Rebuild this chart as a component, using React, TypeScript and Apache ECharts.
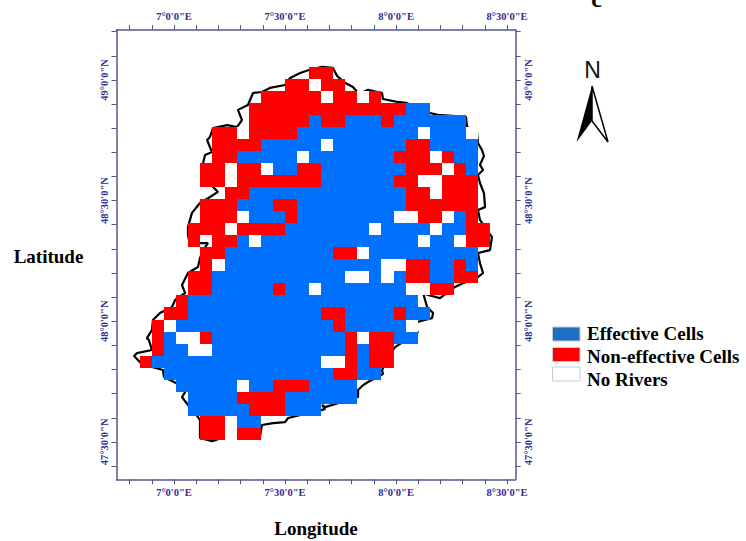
import React, { useEffect, useRef } from "react";
import * as echarts from "echarts";

// Study-area cells, north to south, west to east. R non-effective, B effective, W no rivers, . outside
const cellRows = [
  "..............RR.............",
  "............RRWRR............",
  "..........RRRRRWRRWR.........",
  ".........RRRRRRRRRRRRRBB.....",
  ".........RRRRRBRRBBBRBBBBBB..",
  "......RRWRRRRBBBBBBBBBBWBBBW.",
  "......RRRRBBBBBWBBBBBBRRBBBB.",
  "......RRBBBBBWBBBBBBBRRRWRBB.",
  ".....RRWRRWBBRRBBBBBBBRRRWRB.",
  ".....RRWRRRRRRRBBBBBBRRWWRRR.",
  ".......RRBBBBBBBBBBBBBRRWRRR.",
  ".....RRRBBBRRBBBBBBBBBRRRRRR.",
  ".....RRRWBBBRBBBBBBBBWWRRWBR.",
  "....RRRWRRRRBBBBBBBWBBBBWBBRR",
  "....R.RRBWBBBBBBBBBBBBBWBBWRR",
  ".....RRBBBBBBBBBRRWBBBBBBBBB.",
  ".....RWBBBBBBBBBBBBBWWRRBBRB.",
  "....RRBBBBBBBBBBBWWBWBRRBBRR.",
  "....RRBBBBBRBBWBBBBBBBWWRR...",
  "...RBBBBBBBBBBBBBBBBBBB......",
  "..RRBBBBBBBBBBBRRBBBBRBB.....",
  ".RWBBBBBBBBBBBBBRBBBBBW......",
  ".RBWWRBBBBBBBBBBBRWRRBB......",
  ".RBBWWBBBBBBBBBBBRBRR........",
  "RBBBBBBBBBBBBBBWWRBRR........",
  "..BBBBBBBBBBBBBBRRBB.........",
  "...BBBBBWBBRRRBBBB...........",
  "....BBBBRRRRBBBBBB...........",
  "....BBBBBRRRBBB..............",
  ".....RRWBB...................",
  ".....RRWRR...................",
];

const boundaryLon = [
  7.568, 7.608, 7.667, 7.716, 7.734, 7.77, 7.806, 7.833, 7.874, 7.937, 7.941, 8.005, 8.045, 8.153, 8.189, 8.315,
  8.32, 8.365, 8.369, 8.387, 8.396, 8.378, 8.392, 8.369, 8.378, 8.396, 8.401, 8.369, 8.378, 8.432, 8.423, 8.369,
  8.378, 8.392, 8.369, 8.302, 8.266, 8.198, 8.144, 8.122, 8.14, 8.167, 8.162, 8.095, 8.077, 8.099, 7.996, 7.986,
  7.937, 7.941, 7.874, 7.851, 7.829, 7.829, 7.68, 7.667, 7.68, 7.514, 7.5, 7.446, 7.396, 7.387, 7.284, 7.23,
  7.171, 7.117, 7.117, 7.108, 7.063, 7.036, 7.05, 7.009, 6.955, 6.95, 6.905, 6.86, 6.82, 6.833, 6.901, 6.887,
  6.878, 6.901, 6.905, 6.937, 6.991, 7.005, 7.05, 7.036, 7.063, 7.108, 7.117, 7.131, 7.153, 7.117, 7.072, 7.063,
  7.063, 7.081, 7.117, 7.162, 7.198, 7.176, 7.131, 7.14, 7.171, 7.149, 7.162, 7.176, 7.239, 7.284, 7.306, 7.288,
  7.333, 7.356, 7.396, 7.432, 7.5, 7.523, 7.568,
];
const boundaryLat = [
  49.029, 49.041, 49.054, 49.05, 49.017, 48.988, 48.971, 48.942, 48.959, 48.946, 48.921, 48.909, 48.905, 48.863, 48.855, 48.847,
  48.805, 48.78, 48.739, 48.71, 48.685, 48.648, 48.627, 48.606, 48.573, 48.531, 48.473, 48.461, 48.42, 48.349, 48.295, 48.283,
  48.241, 48.2, 48.183, 48.158, 48.142, 48.096, 48.109, 48.117, 48.059, 48.034, 48.013, 47.997, 47.976, 47.955, 47.893, 47.88,
  47.798, 47.781, 47.748, 47.735, 47.715, 47.686, 47.644, 47.653, 47.636, 47.599, 47.582, 47.578, 47.57, 47.52, 47.52, 47.52,
  47.503, 47.516, 47.59, 47.603, 47.653, 47.686, 47.706, 47.744, 47.769, 47.798, 47.81, 47.818, 47.856, 47.868, 47.881, 47.922,
  47.93, 47.964, 48.005, 48.034, 48.059, 48.088, 48.117, 48.15, 48.2, 48.225, 48.262, 48.295, 48.324, 48.324, 48.316, 48.357,
  48.391, 48.449, 48.49, 48.515, 48.536, 48.556, 48.656, 48.689, 48.701, 48.751, 48.764, 48.801, 48.813, 48.805, 48.834, 48.876,
  48.896, 48.946, 48.95, 48.967, 48.979, 49.008, 49.029,
];

const lonTicks = [6.8, 6.9, 7, 7.1, 7.2, 7.3, 7.4, 7.5, 7.6, 7.7, 7.8, 7.9, 8, 8.1, 8.2, 8.3, 8.4, 8.5];
const latTicks = [47.4, 47.5, 47.6, 47.7, 47.8, 47.9, 48, 48.1, 48.2, 48.3, 48.4, 48.5, 48.6, 48.7, 48.8, 48.9, 49, 49.1, 49.2];
const lonLabelValues = [7, 7.5, 8, 8.5];
const latLabelValues = [47.5, 48, 48.5, 49];
const legendNames = ["Effective Cells", "Non-effective Cells", "No Rivers"];

const LON_MIN = 6.741, LON_MAX = 8.539, LAT_MIN = 47.345, LAT_MAX = 49.207;
const CELL_LON0 = 6.847, CELL_DLON = 0.05437, CELL_LAT0 = 49.055, CELL_DLAT = 0.0499;
const SERIF = '"Liberation Serif", "Times New Roman", serif';
const AXIS_COLOR = "#55558f";
const LABEL_COLOR = "#2d2d96";
const cellColor: Record<string, string> = { B: "#0070ff", R: "#ff0000", W: "#ffffff" };

const dms = (v: number, hemi: string) => {
  const d = Math.floor(v + 1e-6);
  const m = Math.round((v - d) * 60);
  return `${d}°${m}'0"${hemi}`;
};

const cellData: [number, number, string][] = [];
cellRows.forEach((row, r) => {
  row.split("").forEach((c, col) => {
    if (c !== ".") cellData.push([col, r, c]);
  });
});

function axis(position: string, isLon: boolean) {
  const hemi = isLon ? "E" : "N";
  return {
    type: "value",
    position,
    min: isLon ? LON_MIN : LAT_MIN,
    max: isLon ? LON_MAX : LAT_MAX,
    splitLine: { show: false },
    axisLine: { show: true, onZero: false, lineStyle: { color: AXIS_COLOR, width: 1.5 } },
    axisTick: {
      show: true,
      length: 5,
      customValues: isLon ? lonTicks : latTicks,
      lineStyle: { color: AXIS_COLOR, width: 1 },
    },
    axisLabel: {
      show: true,
      customValues: isLon ? lonLabelValues : latLabelValues,
      rotate: isLon ? 0 : 90,
      margin: isLon ? 8 : 7,
      fontFamily: SERIF,
      fontWeight: "bold",
      fontSize: 10.5,
      color: LABEL_COLOR,
      formatter: (v: number) => dms(v, hemi),
    },
  };
}

export default function App() {
  const ref = useRef<HTMLDivElement>(null);
  useEffect(() => {
    const chart = echarts.init(ref.current!, undefined, { renderer: "svg" });
    const titleText = (text: string, x: number, y: number, fontSize = 19) => ({
      type: "text",
      x,
      y,
      style: {
        text,
        fontFamily: SERIF,
        fontWeight: "bold",
        fontSize,
        fill: "#000",
        align: "center",
        verticalAlign: "middle",
      },
    });
    const swatchFill = ["#1f6fc6", "#ff0000", "#ffffff"];
    const swatchY = [327, 347.5, 367];
    const legendY = [333, 356, 379];
    chart.setOption({
      animation: false,
      backgroundColor: "#ffffff",
      grid: { left: 116.5, top: 30, width: 399.2, height: 449.3, containLabel: false },
      xAxis: [axis("bottom", true), axis("top", true)],
      yAxis: [axis("left", false), axis("right", false)],
      series: [
        {
          type: "line",
          data: boundaryLon.map((lon, i) => [lon, boundaryLat[i]]),
          showSymbol: false,
          clip: false,
          lineStyle: { color: "#000", width: 2.2 },
          z: 2,
        },
        {
          type: "custom",
          data: cellData,
          z: 3,
          renderItem: (_p: any, api: any) => {
            const col = api.value(0) as number;
            const row = api.value(1) as number;
            const code = cellRows[row][col];
            const a = api.coord([CELL_LON0 + col * CELL_DLON, CELL_LAT0 - row * CELL_DLAT]);
            const b = api.coord([CELL_LON0 + (col + 1) * CELL_DLON, CELL_LAT0 - (row + 1) * CELL_DLAT]);
            const x = Math.round(a[0]), y = Math.round(a[1]);
            return {
              type: "rect",
              shape: { x, y, width: Math.round(b[0]) - x, height: Math.round(b[1]) - y },
              style: { fill: cellColor[code] },
            };
          },
        },
      ],
      graphic: [
        titleText("c", 596.5, -1, 24),
        titleText("Latitude", 48.5, 256),
        titleText("Longitude", 316, 528),
        {
          type: "text",
          x: 592.5,
          y: 70,
          style: {
            text: "N",
            fontFamily: '"Liberation Sans", Arial, sans-serif',
            fontSize: 23,
            fill: "#111",
            align: "center",
            verticalAlign: "middle",
          },
        },
        { type: "polygon", shape: { points: [[592, 86], [576.5, 142], [592, 121]] }, style: { fill: "#000" } },
        {
          type: "polygon",
          shape: { points: [[592, 86], [608, 142], [592, 121]] },
          style: { fill: "#fff", stroke: "#000", lineWidth: 1.5 },
        },
        ...legendNames.flatMap((name, i) => [
          {
            type: "rect",
            shape: { x: 552.5, y: swatchY[i], width: 27.5, height: 14 },
            style: { fill: swatchFill[i], stroke: "#c4cbd4", lineWidth: 1 },
          },
          {
            type: "text",
            x: 587,
            y: legendY[i],
            style: {
              text: name,
              fontFamily: SERIF,
              fontWeight: "bold",
              fontSize: 19,
              fill: "#000",
              align: "left",
              verticalAlign: "middle",
            },
          },
        ]),
      ],
    });
    return () => chart.dispose();
  }, []);
  return <div ref={ref} style={{ position: "absolute", left: 0, top: 0, width: 746, height: 541 }} />;
}
